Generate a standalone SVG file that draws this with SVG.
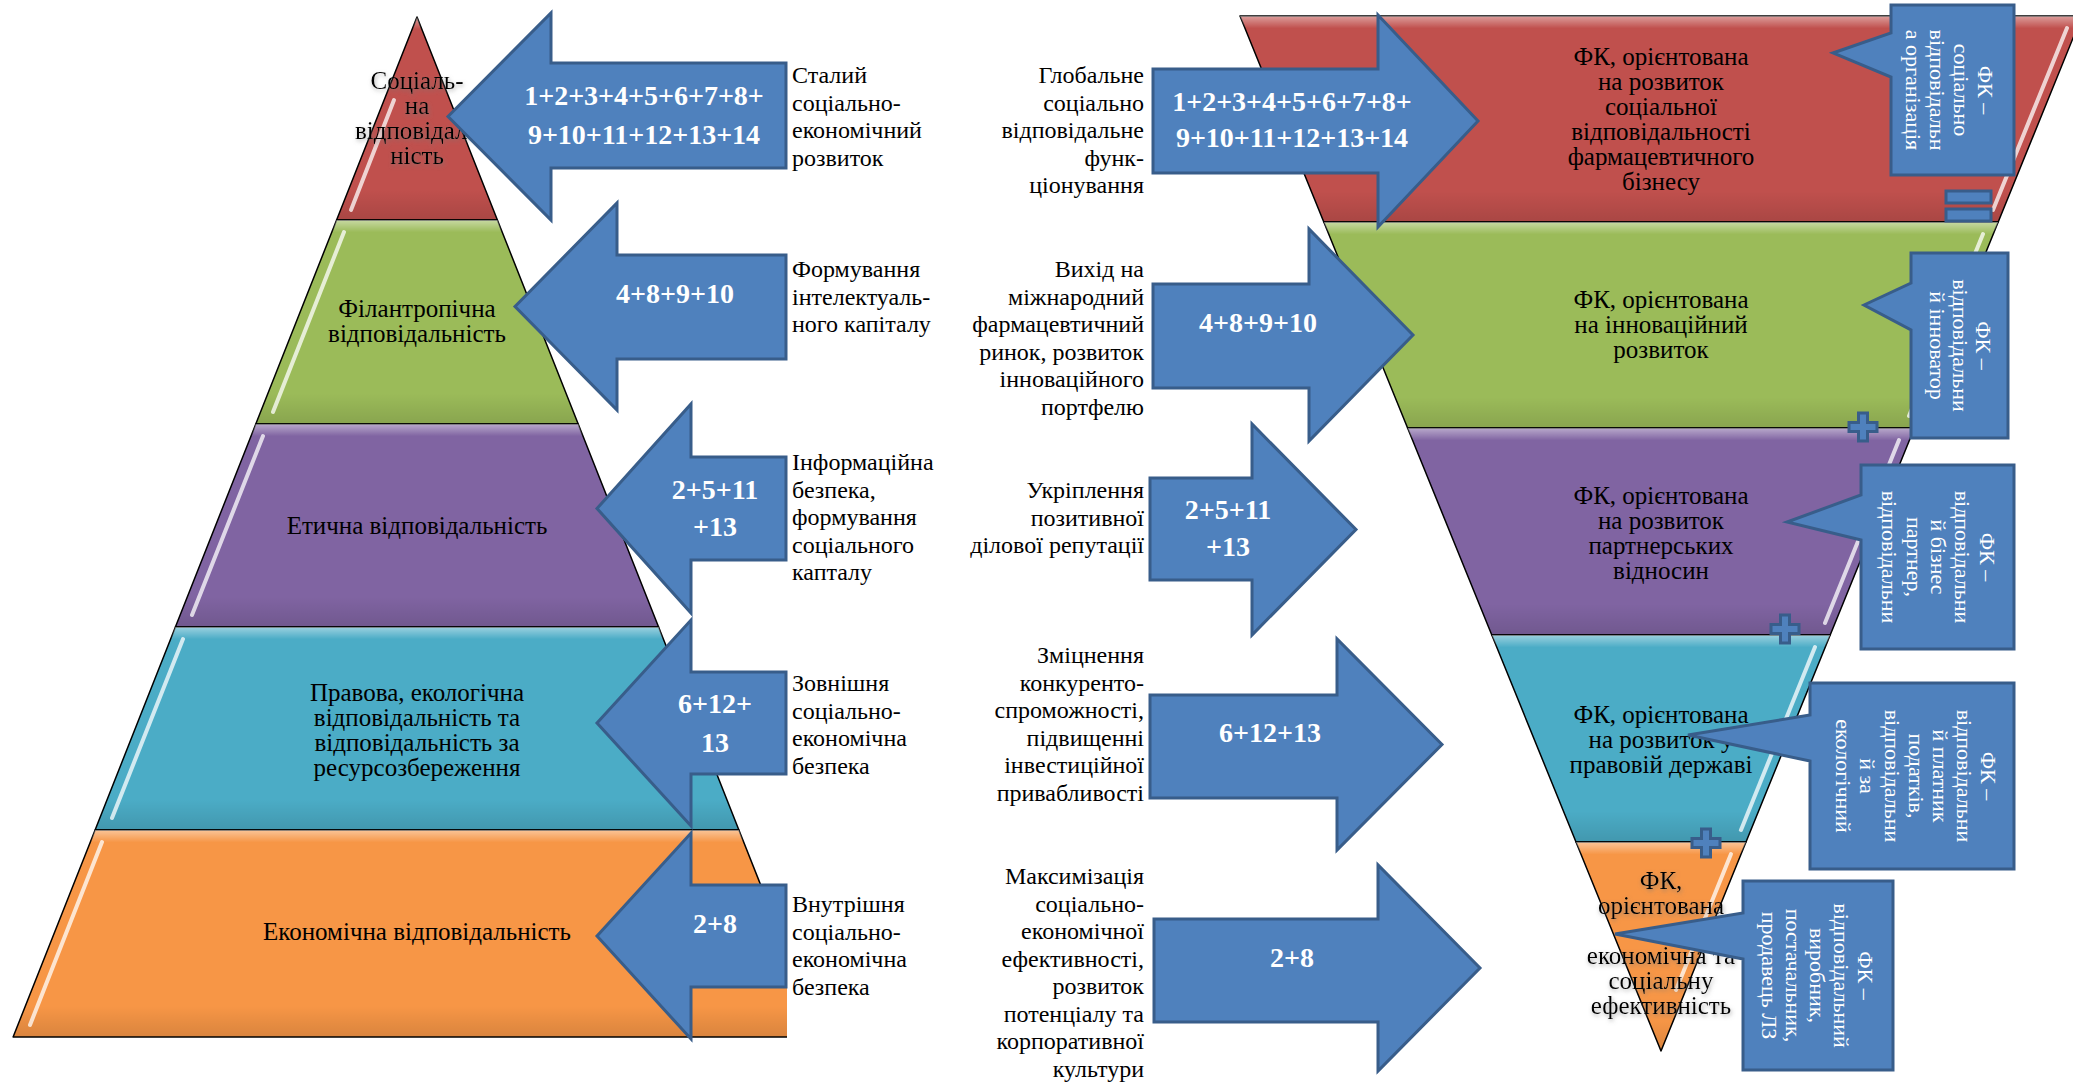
<svg xmlns="http://www.w3.org/2000/svg" width="2073" height="1082" viewBox="0 0 2073 1082">
<style>
.band{stroke:#000;stroke-width:1.5;stroke-linejoin:round}
.sheen{fill:url(#sheen);stroke:none}
.stripe{stroke:#fff;stroke-opacity:.75;stroke-width:4;stroke-linecap:round;fill:none}
.arrow{fill:#4F81BD;stroke:#385D8A;stroke-width:3;stroke-linejoin:miter}
.lbl{font-family:"Liberation Serif","Times New Roman",serif;font-size:25px;fill:#000;text-anchor:middle}
.col{font-family:"Liberation Serif","Times New Roman",serif;font-size:24px;fill:#000}
.colL{text-anchor:start}
.colR{text-anchor:end}
.num{font-family:"Liberation Serif","Times New Roman",serif;font-weight:bold;font-size:28px;fill:#fff;text-anchor:middle}
.call{font-family:"Liberation Serif","Times New Roman",serif;font-size:22px;fill:#fff;text-anchor:middle}
.glow{filter:url(#glow)}
</style>
<defs>
<linearGradient id="sheen" x1="0" y1="0" x2="0" y2="1">
<stop offset="0" stop-color="#fff" stop-opacity=".45"/>
<stop offset=".06" stop-color="#fff" stop-opacity="0"/>
<stop offset=".85" stop-color="#000" stop-opacity="0"/>
<stop offset="1" stop-color="#000" stop-opacity=".12"/>
</linearGradient>
<filter id="glow" x="-20%" y="-20%" width="140%" height="140%">
<feGaussianBlur in="SourceAlpha" stdDeviation="2"/>
<feOffset dx="1" dy="2" result="b"/>
<feFlood flood-color="#777" flood-opacity=".6"/>
<feComposite in2="b" operator="in"/>
<feMerge><feMergeNode/><feMergeNode in="SourceGraphic"/></feMerge>
</filter>
<clipPath id="leftclip"><rect x="0" y="0" width="787" height="1082"/></clipPath>
<path id="plus" d="M-4.5,-14 H4.5 V-4.5 H14 V4.5 H4.5 V14 H-4.5 V4.5 H-14 V-4.5 H-4.5 Z" fill="#4F81BD" stroke="#385D8A" stroke-width="3"/>
</defs>
<rect width="2073" height="1082" fill="#fff"/>

<!-- Left pyramid -->
<g clip-path="url(#leftclip)">
<g id="lp-red">
<polygon class="band" fill="#C0504D" points="417,17 497.4,220 336.6,220"/>
<polygon class="sheen" points="417,17 497.4,220 336.6,220"/>
<line class="stripe" x1="394" y1="100" x2="351" y2="210"/>
</g>
<g id="lp-green">
<polygon class="band" fill="#9BBB59" points="336.6,220 497.4,220 578.2,424 255.8,424"/>
<polygon class="sheen" points="336.6,220 497.4,220 578.2,424 255.8,424"/>
<line class="stripe" x1="344" y1="232" x2="273" y2="412"/>
</g>
<g id="lp-purple">
<polygon class="band" fill="#8064A2" points="255.8,424 578.2,424 658.6,627 175.4,627"/>
<polygon class="sheen" points="255.8,424 578.2,424 658.6,627 175.4,627"/>
<line class="stripe" x1="263" y1="436" x2="192" y2="615"/>
</g>
<g id="lp-cyan">
<polygon class="band" fill="#4BACC6" points="175.4,627 658.6,627 738.9,830 95.1,830"/>
<polygon class="sheen" points="175.4,627 658.6,627 738.9,830 95.1,830"/>
<line class="stripe" x1="183" y1="639" x2="112" y2="818"/>
</g>
<g id="lp-orange">
<polygon class="band" fill="#F79646" points="95.1,830 738.9,830 820.9,1037 13.1,1037"/>
<polygon class="sheen" points="95.1,830 738.9,830 820.9,1037 13.1,1037"/>
<line class="stripe" x1="102" y1="842" x2="30" y2="1025"/>
</g>
</g>

<g id="lp-labels">
<text class="lbl glow"><tspan x="417" y="88.5">Соціаль-</tspan><tspan x="417" y="113.5">на</tspan><tspan x="417" y="138.5">відповідаль</tspan><tspan x="417" y="163.5">ність</tspan></text>
<text class="lbl"><tspan x="417" y="317">Філантропічна</tspan><tspan x="417" y="342">відповідальність</tspan></text>
<text class="lbl" x="417" y="534">Етична відповідальність</text>
<text class="lbl"><tspan x="417" y="701">Правова, екологічна</tspan><tspan x="417" y="726">відповідальність та</tspan><tspan x="417" y="751">відповідальність за</tspan><tspan x="417" y="776">ресурсозбереження</tspan></text>
<text class="lbl" x="417" y="940">Економічна відповідальність</text>
</g>

<!-- Left arrows -->
<g id="la1"><polygon class="arrow" points="448,116.5 551,13 551,63 786,63 786,168 551,168 551,220"/>
<text class="num"><tspan x="644" y="105">1+2+3+4+5+6+7+8+</tspan><tspan x="644" y="144">9+10+11+12+13+14</tspan></text></g>
<g id="la2"><polygon class="arrow" points="515,306.5 617,203 617,255 786,255 786,359 617,359 617,410"/>
<text class="num" x="675" y="303">4+8+9+10</text></g>
<g id="la3"><polygon class="arrow" points="597,508.5 691,404 691,457 786,457 786,560 691,560 691,613"/>
<text class="num"><tspan x="715" y="499">2+5+11</tspan><tspan x="715" y="536">+13</tspan></text></g>
<g id="la4"><polygon class="arrow" points="597,723 691,620 691,672 786,672 786,774 691,774 691,826"/>
<text class="num"><tspan x="715" y="713">6+12+</tspan><tspan x="715" y="752">13</tspan></text></g>
<g id="la5"><polygon class="arrow" points="597,936 691,833 691,885 786,885 786,987 691,987 691,1039"/>
<text class="num" x="715" y="933">2+8</text></g>

<!-- Column 1 -->
<g id="c1-1"><text class="col colL"><tspan x="792" y="83">Сталий</tspan><tspan x="792" y="110.5">соціально-</tspan><tspan x="792" y="138">економічний</tspan><tspan x="792" y="165.5">розвиток</tspan></text></g>
<g id="c1-2"><text class="col colL"><tspan x="792" y="277">Формування</tspan><tspan x="792" y="304.5">інтелектуаль-</tspan><tspan x="792" y="332">ного капіталу</tspan></text></g>
<g id="c1-3"><text class="col colL"><tspan x="792" y="470">Інформаційна</tspan><tspan x="792" y="497.5">безпека,</tspan><tspan x="792" y="525">формування</tspan><tspan x="792" y="552.5">соціального</tspan><tspan x="792" y="580">капталу</tspan></text></g>
<g id="c1-4"><text class="col colL"><tspan x="792" y="691">Зовнішня</tspan><tspan x="792" y="718.5">соціально-</tspan><tspan x="792" y="746">економічна</tspan><tspan x="792" y="773.5">безпека</tspan></text></g>
<g id="c1-5"><text class="col colL"><tspan x="792" y="912">Внутрішня</tspan><tspan x="792" y="939.5">соціально-</tspan><tspan x="792" y="967">економічна</tspan><tspan x="792" y="994.5">безпека</tspan></text></g>

<!-- Column 2 -->
<g id="c2-1"><text class="col colR"><tspan x="1144" y="83">Глобальне</tspan><tspan x="1144" y="110.5">соціально</tspan><tspan x="1144" y="138">відповідальне</tspan><tspan x="1144" y="165.5">функ-</tspan><tspan x="1144" y="193">ціонування</tspan></text></g>
<g id="c2-2"><text class="col colR"><tspan x="1144" y="277">Вихід на</tspan><tspan x="1144" y="304.5">міжнародний</tspan><tspan x="1144" y="332">фармацевтичний</tspan><tspan x="1144" y="359.5">ринок, розвиток</tspan><tspan x="1144" y="387">інноваційного</tspan><tspan x="1144" y="414.5">портфелю</tspan></text></g>
<g id="c2-3"><text class="col colR"><tspan x="1144" y="498">Укріплення</tspan><tspan x="1144" y="525.5">позитивної</tspan><tspan x="1144" y="553">ділової репутації</tspan></text></g>
<g id="c2-4"><text class="col colR"><tspan x="1144" y="663">Зміцнення</tspan><tspan x="1144" y="690.5">конкуренто-</tspan><tspan x="1144" y="718">спроможності,</tspan><tspan x="1144" y="745.5">підвищенні</tspan><tspan x="1144" y="773">інвестиційної</tspan><tspan x="1144" y="800.5">привабливості</tspan></text></g>
<g id="c2-5"><text class="col colR"><tspan x="1144" y="884">Максимізація</tspan><tspan x="1144" y="911.5">соціально-</tspan><tspan x="1144" y="939">економічної</tspan><tspan x="1144" y="966.5">ефективності,</tspan><tspan x="1144" y="994">розвиток</tspan><tspan x="1144" y="1021.5">потенціалу та</tspan><tspan x="1144" y="1049">корпоративної</tspan><tspan x="1144" y="1076.5">культури</tspan></text></g>

<!-- Right inverted pyramid -->
<g id="rp-red">
<polygon class="band" fill="#C0504D" points="1240,16 2082,16 1998.2,222 1323.8,222"/>
<polygon class="sheen" points="1240,16 2082,16 1998.2,222 1323.8,222"/>
<line class="stripe" x1="2067" y1="28" x2="1993" y2="210"/>
<text class="lbl"><tspan x="1661" y="65">ФК, орієнтована</tspan><tspan x="1661" y="90">на розвиток</tspan><tspan x="1661" y="115">соціальної</tspan><tspan x="1661" y="140">відповідальності</tspan><tspan x="1661" y="165">фармацевтичного</tspan><tspan x="1661" y="190">бізнесу</tspan></text>
</g>
<g id="rp-green">
<polygon class="band" fill="#9BBB59" points="1323.8,222 1998.2,222 1914.4,428 1407.6,428"/>
<polygon class="sheen" points="1323.8,222 1998.2,222 1914.4,428 1407.6,428"/>
<line class="stripe" x1="1983" y1="234" x2="1909" y2="416"/>
<text class="lbl"><tspan x="1661" y="307.5">ФК, орієнтована</tspan><tspan x="1661" y="332.5">на інноваційний</tspan><tspan x="1661" y="357.5">розвиток</tspan></text>
</g>
<g id="rp-purple">
<polygon class="band" fill="#8064A2" points="1407.6,428 1914.4,428 1830.2,635 1491.8,635"/>
<polygon class="sheen" points="1407.6,428 1914.4,428 1830.2,635 1491.8,635"/>
<line class="stripe" x1="1899" y1="440" x2="1825" y2="623"/>
<text class="lbl"><tspan x="1661" y="504">ФК, орієнтована</tspan><tspan x="1661" y="529">на розвиток</tspan><tspan x="1661" y="554">партнерських</tspan><tspan x="1661" y="579">відносин</tspan></text>
</g>
<g id="rp-cyan">
<polygon class="band" fill="#4BACC6" points="1491.8,635 1830.2,635 1746,842 1576,842"/>
<polygon class="sheen" points="1491.8,635 1830.2,635 1746,842 1576,842"/>
<line class="stripe" x1="1815" y1="647" x2="1741" y2="830"/>
<text class="lbl"><tspan x="1661" y="723">ФК, орієнтована</tspan><tspan x="1661" y="748">на розвиток у</tspan><tspan x="1661" y="773">правовій державі</tspan></text>
</g>
<g id="rp-orange">
<polygon class="band" fill="#F79646" points="1576,842 1746,842 1661,1051"/>
<polygon class="sheen" points="1576,842 1746,842 1661,1051"/>
<line class="stripe" x1="1731" y1="854" x2="1676" y2="990"/>
<text class="lbl glow"><tspan x="1661" y="889">ФК,</tspan><tspan x="1661" y="914">орієнтована</tspan><tspan x="1661" y="964">економічна та</tspan><tspan x="1661" y="989">соціальну</tspan><tspan x="1661" y="1014">ефективність</tspan></text>
</g>

<!-- Right arrows -->
<g id="ra1"><polygon class="arrow" points="1153,69 1378,69 1378,15 1478,121 1378,227 1378,173 1153,173"/>
<text class="num"><tspan x="1292" y="111">1+2+3+4+5+6+7+8+</tspan><tspan x="1292" y="147">9+10+11+12+13+14</tspan></text></g>
<g id="ra2"><polygon class="arrow" points="1153,284 1309,284 1309,229 1413,335 1309,441 1309,388 1153,388"/>
<text class="num" x="1258" y="332">4+8+9+10</text></g>
<g id="ra3"><polygon class="arrow" points="1150,478 1252,478 1252,424 1356,529.5 1252,635 1252,580 1150,580"/>
<text class="num"><tspan x="1228" y="519">2+5+11</tspan><tspan x="1228" y="556">+13</tspan></text></g>
<g id="ra4"><polygon class="arrow" points="1150,695 1337,695 1337,639 1442,744.5 1337,850 1337,798 1150,798"/>
<text class="num" x="1270" y="742">6+12+13</text></g>
<g id="ra5"><polygon class="arrow" points="1154,919 1378,919 1378,865 1480,968 1378,1071 1378,1022 1154,1022"/>
<text class="num" x="1292" y="967">2+8</text></g>

<!-- Callouts -->
<g id="co1"><polygon class="arrow" points="1891,5 2014,5 2014,175 1891,175 1891,77 1833,53 1891,33"/>
<g transform="translate(1952.5,90) rotate(90)"><text class="call"><tspan x="0" y="-25">ФК –</tspan><tspan x="0" y="-1">соціально</tspan><tspan x="0" y="23">відповідальн</tspan><tspan x="0" y="47">а організація</tspan></text></g></g>
<g id="co2"><polygon class="arrow" points="1911,253 2008,253 2008,438 1911,438 1911,330 1864,305 1911,283"/>
<g transform="translate(1959.5,345.5) rotate(90)"><text class="call"><tspan x="0" y="-16">ФК –</tspan><tspan x="0" y="6.5">відповідальни</tspan><tspan x="0" y="29.5">й інноватор</tspan></text></g></g>
<g id="co3"><polygon class="arrow" points="1861,465 2014,465 2014,649 1861,649 1861,540 1787,522 1861,495"/>
<g transform="translate(1937.5,557) rotate(90)"><text class="call"><tspan x="0" y="-42">ФК –</tspan><tspan x="0" y="-17.7">відповідальни</tspan><tspan x="0" y="6.6">й бізнес</tspan><tspan x="0" y="30.9">партнер,</tspan><tspan x="0" y="55.2">відповідальни</tspan></text></g></g>
<g id="co4"><polygon class="arrow" points="1810,683 2014,683 2014,869 1810,869 1810,761 1688,735 1810,715"/>
<g transform="translate(1912,776) rotate(90)"><text class="call"><tspan x="0" y="-69.4">ФК –</tspan><tspan x="0" y="-45.2">відповідальни</tspan><tspan x="0" y="-21">й платник</tspan><tspan x="0" y="3.2">податків,</tspan><tspan x="0" y="27.4">відповідальни</tspan><tspan x="0" y="51.6">й за</tspan><tspan x="0" y="75.8">екологічний</tspan></text></g></g>
<g id="co5"><polygon class="arrow" points="1743,881 1893,881 1893,1070 1743,1070 1743,959 1615,934 1743,913"/>
<g transform="translate(1818,975.5) rotate(90)"><text class="call"><tspan x="0" y="-40.4">ФК –</tspan><tspan x="0" y="-16.2">відповідальний</tspan><tspan x="0" y="8">виробник,</tspan><tspan x="0" y="32.2">постачальник,</tspan><tspan x="0" y="56.4">продавець ЛЗ</tspan></text></g></g>

<!-- Equal and plus signs -->
<g id="equal">
<rect x="1946" y="191" width="45" height="12" fill="#4F81BD" stroke="#385D8A" stroke-width="3"/>
<rect x="1946" y="209" width="45" height="12" fill="#4F81BD" stroke="#385D8A" stroke-width="3"/>
</g>
<g id="plus1"><use href="#plus" transform="translate(1863,427)"/></g>
<g id="plus2"><use href="#plus" transform="translate(1785,629)"/></g>
<g id="plus3"><use href="#plus" transform="translate(1706,843)"/></g>
</svg>
